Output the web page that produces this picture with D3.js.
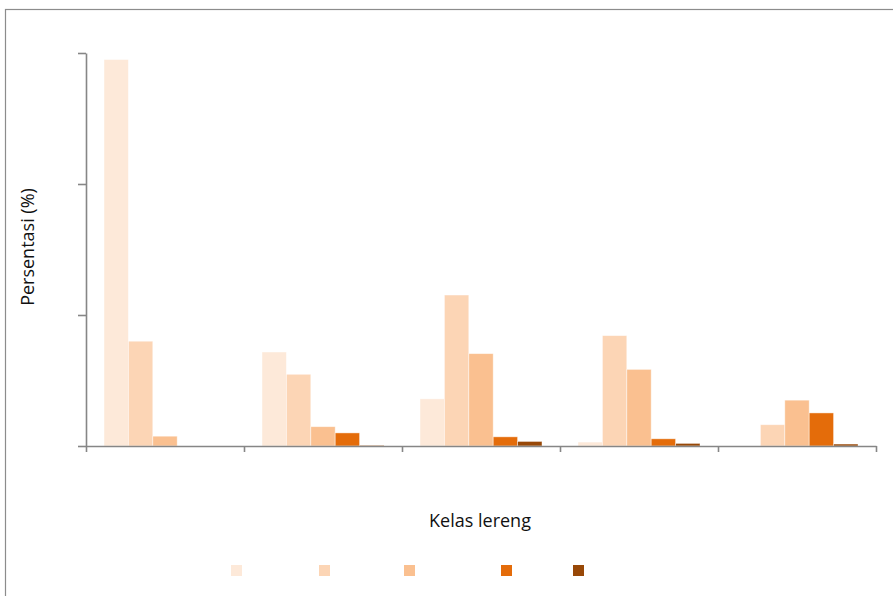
<!DOCTYPE html>
<html>
<head>
<meta charset="utf-8">
<script src="https://cdn.jsdelivr.net/npm/d3@7"></script>
<style>
  html, body { margin: 0; padding: 0; background: #fff; }
  svg { display: block; }
  text { font-family: "Open Sans", "Liberation Sans", sans-serif; fill: #111; }
</style>
</head>
<body>
<svg id="chart" width="893" height="596"></svg>
<script>
// Slope classes (kelas lereng) and the five series plotted per class
const categories = ["I", "II", "III", "IV", "V"];
const seriesKeys = ["s1", "s2", "s3", "s4", "s5"];
const seriesColors = ["#fde9d9", "#fcd5b5", "#fac090", "#e46c0a", "#984807"];

// Percentage values, one array per series (index follows categories)
const s1 = [59.0, 14.35, 7.2, 0.6, 0.0];
const s2 = [16.0, 10.95, 23.05, 16.85, 3.25];
const s3 = [1.5, 2.95, 14.1, 11.7, 7.0];
const s4 = [0.0, 2.0, 1.4, 1.1, 5.05];
const s5 = [0.0, 0.1, 0.7, 0.4, 0.3];
const seriesValues = [s1, s2, s3, s4, s5];

const yTicks = [0, 20, 40, 60];

const svg = d3.select("#chart");

// Plot area
const plotLeft = 86, plotRight = 876, plotTop = 53, plotBottom = 446;

// Outer chart frame
svg.append("rect")
  .attr("x", 5.5).attr("y", 9.5)
  .attr("width", 900).attr("height", 600)
  .attr("fill", "none")
  .attr("stroke", "#8c8c8c")
  .attr("stroke-width", 1.2);

const x0 = d3.scaleBand().domain(categories).range([plotLeft, plotRight]).padding(0);
const groupPad = 18;
const x1 = d3.scaleBand().domain(seriesKeys)
  .range([groupPad, x0.bandwidth() - groupPad]).padding(0);
const y = d3.scaleLinear().domain([0, 60]).range([plotBottom, plotTop]);

// Bars
const rows = categories.map((c, ci) => ({
  cat: c,
  vals: seriesKeys.map((k, si) => ({ key: k, si, v: seriesValues[si][ci] }))
}));

const groups = svg.append("g").selectAll("g")
  .data(rows).join("g")
  .attr("transform", d => `translate(${x0(d.cat)},0)`);

groups.selectAll("rect")
  .data(d => d.vals.filter(e => e.v > 0))
  .join("rect")
  .attr("x", d => x1(d.key))
  .attr("width", x1.bandwidth())
  .attr("y", d => y(d.v))
  .attr("height", d => y(0) - y(d.v))
  .attr("fill", d => seriesColors[d.si])
  .attr("stroke", "rgba(255,255,255,0.55)")
  .attr("stroke-width", 0.8);

// Axes
const axisColor = "#868686";

const yAxis = svg.append("g")
  .attr("transform", `translate(${plotLeft},0)`)
  .call(d3.axisLeft(y).tickValues(yTicks).tickFormat("").tickSize(8).tickSizeOuter(0));

const xEdge = d3.scaleLinear().domain([0, categories.length]).range([plotLeft, plotRight]);
const xAxis = svg.append("g")
  .attr("transform", `translate(0,${plotBottom})`)
  .call(d3.axisBottom(xEdge).tickValues(d3.range(categories.length + 1))
    .tickFormat("").tickSize(6).tickSizeOuter(0));

[yAxis, xAxis].forEach(a => {
  a.selectAll("path, line").attr("stroke", axisColor).attr("stroke-width", 1.6);
});

// Axis titles
svg.append("text")
  .attr("x", 480).attr("y", 527)
  .attr("text-anchor", "middle")
  .attr("font-size", 18)
  .text("Kelas lereng");

svg.append("text")
  .attr("transform", "translate(34,247) rotate(-90)")
  .attr("text-anchor", "middle")
  .attr("font-size", 18)
  .text("Persentasi (%)");

// Legend swatches
const legendX = [231, 319, 404, 501, 573];
svg.append("g").selectAll("rect")
  .data(seriesKeys).join("rect")
  .attr("x", (d, i) => legendX[i])
  .attr("y", 565)
  .attr("width", 11).attr("height", 11)
  .attr("fill", (d, i) => seriesColors[i]);
</script>
</body>
</html>
